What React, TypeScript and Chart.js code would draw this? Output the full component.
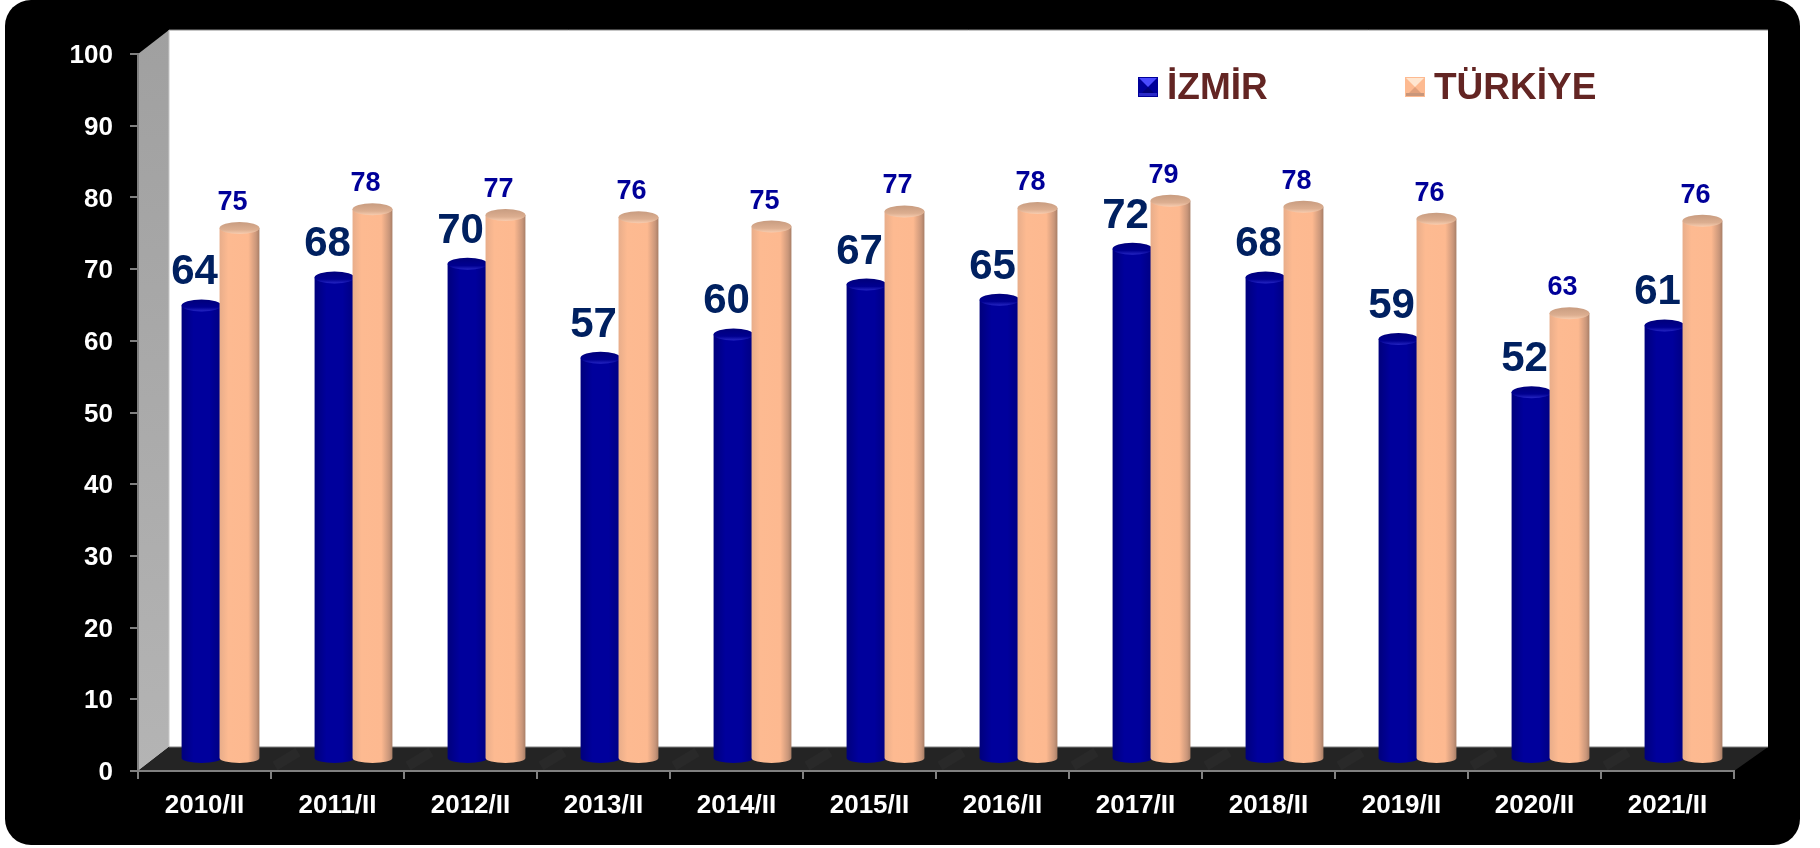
import React, { useEffect, useRef } from "react";
import { Chart, registerables } from "chart.js";

Chart.register(...registerables);

const categories = ["2010/II", "2011/II", "2012/II", "2013/II", "2014/II", "2015/II", "2016/II", "2017/II", "2018/II", "2019/II", "2020/II", "2021/II"];
const izmir = [64.1, 68.0, 69.9, 56.8, 60.05, 67.0, 64.9, 72.0, 68.0, 59.4, 52.0, 61.3];
const turkiye = [74.9, 77.5, 76.7, 76.4, 75.1, 77.2, 77.7, 78.7, 77.85, 76.2, 63.0, 75.9];
const seriesNames = ["İZMİR", "TÜRKİYE"];

const FONT = '"Liberation Sans", Arial, sans-serif';
const DX = 16;
const DY = -12;
const DEPTH_X = 31;
const DEPTH_Y = -24;
const RY = 6;

function frameDraw(chart: any) {
  const { ctx, chartArea: a } = chart;
  ctx.save();
  ctx.fillStyle = "#000";
  ctx.beginPath();
  ctx.roundRect(5, 0, 1795, 845, 26);
  ctx.fill();
  const bx = a.left + DEPTH_X;
  const bt = a.top + DEPTH_Y;
  const bb = a.bottom + DEPTH_Y;
  const br = a.right + 34;
  ctx.fillStyle = "#fff";
  ctx.fillRect(bx, bt, br - bx, bb - bt);
  ctx.strokeStyle = "#8c8c8c";
  ctx.lineWidth = 1;
  ctx.beginPath();
  ctx.moveTo(bx, bt);
  ctx.lineTo(br, bt);
  ctx.stroke();
  const wall = ctx.createLinearGradient(0, bt, 0, a.bottom);
  wall.addColorStop(0, "#a0a0a0");
  wall.addColorStop(1, "#b4b4b4");
  ctx.fillStyle = wall;
  ctx.beginPath();
  ctx.moveTo(a.left, a.top);
  ctx.lineTo(bx, bt);
  ctx.lineTo(bx, bb);
  ctx.lineTo(a.left, a.bottom);
  ctx.closePath();
  ctx.fill();
  ctx.strokeStyle = "#c8c8c8";
  ctx.beginPath();
  ctx.moveTo(bx, bt);
  ctx.lineTo(bx, bb);
  ctx.stroke();
  ctx.fillStyle = "#242424";
  ctx.beginPath();
  ctx.moveTo(a.left, a.bottom);
  ctx.lineTo(bx, bb);
  ctx.lineTo(br, bb);
  ctx.lineTo(a.right, a.bottom);
  ctx.closePath();
  ctx.fill();
  // faint streaks where the category divisions cross the floor
  const step = (a.right - a.left) / categories.length;
  ctx.strokeStyle = "rgba(255,255,255,0.025)";
  ctx.lineWidth = 10;
  for (let i = 1; i < categories.length; i++) {
    const xb = a.left + i * step;
    ctx.beginPath();
    ctx.moveTo(xb + 4, a.bottom - 5);
    ctx.lineTo(xb + DEPTH_X - 4, bb + 5);
    ctx.stroke();
  }
  ctx.lineWidth = 1;
  ctx.strokeStyle = "#808080";
  ctx.beginPath();
  ctx.moveTo(bx, bb);
  ctx.lineTo(br, bb);
  ctx.stroke();
  ctx.restore();
}

function cylinder(ctx: any, el: any, blue: boolean) {
  const cx = el.x + DX;
  const w = el.width;
  const l = cx - w / 2;
  const r = cx + w / 2;
  const top = el.y + DY + RY;
  const base = el.base + DY;
  const rx = w / 2;
  const g = ctx.createLinearGradient(l, 0, r, 0);
  if (blue) {
    g.addColorStop(0, "#00007c");
    g.addColorStop(0.3, "#00009c");
    g.addColorStop(0.7, "#00009c");
    g.addColorStop(1, "#000080");
  } else {
    g.addColorStop(0, "#e8ad8a");
    g.addColorStop(0.22, "#fdba91");
    g.addColorStop(0.72, "#fdb990");
    g.addColorStop(0.92, "#c9967a");
    g.addColorStop(1, "#a87e66");
  }
  ctx.fillStyle = g;
  ctx.beginPath();
  ctx.moveTo(l, top);
  ctx.lineTo(l, base);
  ctx.ellipse(cx, base, rx, RY - 1, 0, Math.PI, 0, true);
  ctx.lineTo(r, top);
  ctx.closePath();
  ctx.fill();
  const t = ctx.createLinearGradient(0, top - RY, 0, top + RY);
  if (blue) {
    t.addColorStop(0, "#00007a");
    t.addColorStop(0.65, "#000090");
    t.addColorStop(1, "#2626c4");
  } else {
    t.addColorStop(0, "#c89c80");
    t.addColorStop(0.65, "#dcae90");
    t.addColorStop(1, "#f8cdb0");
  }
  ctx.fillStyle = t;
  ctx.beginPath();
  ctx.ellipse(cx, top, rx, RY, 0, 0, Math.PI * 2);
  ctx.fill();
}

const themedPlugin = {
  id: "themed3d",
  beforeDraw(chart: any) {
    frameDraw(chart);
    // tick labels sit slightly lower than the canvas "middle" baseline
    chart.scales.y.getLabelItems().forEach((it: any) => {
      if (!it.__moved) {
        it.options = { ...it.options, translation: [it.options.translation[0], it.options.translation[1] + 2] };
        it.__moved = true;
      }
    });
  },
  beforeDatasetsDraw(chart: any) {
    const { ctx } = chart;
    ctx.save();
    chart.data.datasets.forEach((_: any, i: number) => {
      chart.getDatasetMeta(i).data.forEach((el: any) => cylinder(ctx, el, i === 0));
    });
    ctx.restore();
  },
  beforeDatasetDraw() {
    return false;
  },
  afterDatasetsDraw(chart: any) {
    const { ctx } = chart;
    ctx.save();
    ctx.textAlign = "center";
    ctx.textBaseline = "alphabetic";
    chart.data.datasets.forEach((ds: any, i: number) => {
      const meta = chart.getDatasetMeta(i);
      ctx.font = `bold ${i === 0 ? 42 : 27}px ${FONT}`;
      ctx.fillStyle = i === 0 ? "#002060" : "#000099";
      meta.data.forEach((el: any, k: number) => {
        ctx.fillText(String(Math.round(ds.data[k])), el.x + DX - 7, el.y + DY - (i === 0 ? 15 : 12));
      });
    });
    // legend
    const keys = [
      { x: 1138, tx: 1167, fill: ["#4a4aff", "#000099", "#000078", "#2a2ac8"] },
      { x: 1405, tx: 1434, fill: ["#ffe6d0", "#fdba91", "#e0a07c", "#c9967a"] },
    ];
    keys.forEach((k, i) => {
      const s = 20;
      const y = 77;
      ctx.fillStyle = k.fill[1];
      ctx.fillRect(k.x, y, s, s);
      ctx.fillStyle = k.fill[0];
      ctx.beginPath();
      ctx.moveTo(k.x + 1, y + 1);
      ctx.lineTo(k.x + s - 1, y + 1);
      ctx.lineTo(k.x + s / 2, y + s / 2);
      ctx.closePath();
      ctx.fill();
      ctx.fillStyle = k.fill[2];
      ctx.beginPath();
      ctx.moveTo(k.x + 1, y + s - 1);
      ctx.lineTo(k.x + s - 1, y + s - 1);
      ctx.lineTo(k.x + s / 2, y + s / 2);
      ctx.closePath();
      ctx.fill();
      ctx.fillStyle = k.fill[3];
      ctx.fillRect(k.x + 1, y + s - 4, s - 2, 3);
      ctx.font = `bold 37px ${FONT}`;
      ctx.textAlign = "left";
      ctx.fillStyle = "#632523";
      ctx.fillText(seriesNames[i], k.tx, 99);
    });
    ctx.restore();
  },
};

export default function App() {
  const ref = useRef<HTMLCanvasElement>(null);
  useEffect(() => {
    const chart = new Chart(ref.current!, {
      type: "bar",
      data: {
        labels: categories,
        datasets: [
          { label: seriesNames[0], data: izmir, backgroundColor: "#000099", categoryPercentage: 0.571, barPercentage: 1.05 },
          { label: seriesNames[1], data: turkiye, backgroundColor: "#FDBA91", categoryPercentage: 0.571, barPercentage: 1.05 },
        ],
      },
      options: {
        responsive: false,
        animation: false,
        layout: { padding: { left: 0, right: 86, top: 54, bottom: 0 } },
        plugins: { legend: { display: false }, tooltip: { enabled: false } },
        scales: {
          x: {
            afterFit: (s: any) => { s.height = 77; },
            grid: { drawOnChartArea: false, drawTicks: true, tickLength: 8, color: "#808080", lineWidth: 2 },
            border: { color: "#808080", width: 2 },
            ticks: { color: "#fff", font: { family: FONT, size: 26, weight: "bold" }, padding: 11, maxRotation: 0, autoSkip: false },
          },
          y: {
            min: 0,
            max: 100,
            afterFit: (s: any) => { s.width = 138; },
            grid: { drawOnChartArea: false, drawTicks: true, tickLength: 8, color: "#808080", lineWidth: 2 },
            border: { color: "#808080", width: 2 },
            ticks: { stepSize: 10, color: "#fff", font: { family: FONT, size: 26, weight: "bold" }, padding: 17 },
          },
        },
      },
      plugins: [themedPlugin],
    } as any);
    return () => chart.destroy();
  }, []);
  return (
    <div style={{ position: "absolute", left: 0, top: 0, width: 1820, height: 848, background: "#fff" }}>
      <canvas ref={ref} width={1820} height={848} style={{ display: "block" }} />
    </div>
  );
}
